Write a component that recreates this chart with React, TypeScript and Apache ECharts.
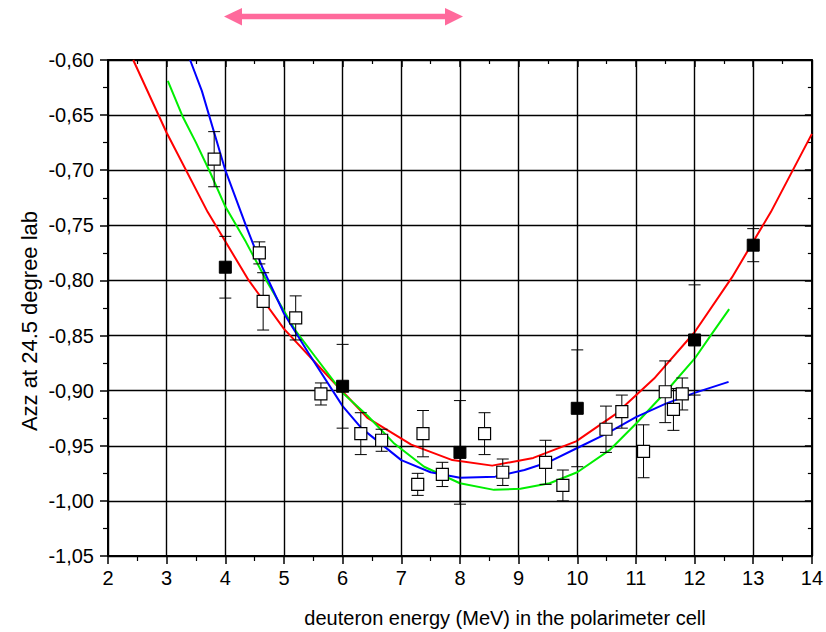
import React, { useEffect, useRef } from "react";
import * as echarts from "echarts";

// ---- data ----
const openX = [3.81, 4.58, 4.645, 5.2, 5.63, 6.31, 6.665, 7.28, 7.37, 7.7, 8.42, 8.73, 9.46, 9.755, 10.49, 10.76, 11.13, 11.5, 11.64, 11.79];
const openY = [-0.69, -0.775, -0.819, -0.834, -0.903, -0.939, -0.945, -0.985, -0.939, -0.976, -0.939, -0.974, -0.965, -0.986, -0.935, -0.919, -0.955, -0.901, -0.917, -0.903];
const openErr = [0.025, 0.01, 0.026, 0.02, 0.01, 0.019, 0.01, 0.01, 0.021, 0.011, 0.019, 0.012, 0.02, 0.014, 0.021, 0.015, 0.024, 0.028, 0.019, 0.0145];

const filledX = [4, 6, 8, 10, 12, 13];
const filledY = [-0.788, -0.896, -0.956, -0.916, -0.854, -0.768];
const filledErr = [0.028, 0.038, 0.047, 0.053, 0.05, 0.015];

const redX = [2.43, 3.0, 3.7, 4.4, 5.0, 5.7, 6.43, 7.17, 7.87, 8.55, 9.25, 9.98, 10.66, 11.31, 12.0, 12.64, 13.3, 14.0];
const redY = [-0.6, -0.666, -0.738, -0.8, -0.844, -0.884, -0.925, -0.949, -0.963, -0.968, -0.961, -0.946, -0.921, -0.889, -0.847, -0.797, -0.738, -0.667];

const blueX = [3.4, 3.6, 4.0, 4.35, 4.63, 5.0, 5.42, 6.0, 6.32, 7.0, 7.5, 8.0, 8.6, 9.1, 9.5, 10.0, 10.5, 11.0, 11.5, 12.0, 12.58];
const blueY = [-0.6, -0.628, -0.7, -0.75, -0.788, -0.83, -0.866, -0.914, -0.934, -0.963, -0.974, -0.979, -0.978, -0.972, -0.965, -0.952, -0.939, -0.924, -0.912, -0.902, -0.892];

const greenX = [3.02, 3.27, 3.5, 3.75, 4.0, 4.35, 4.7, 5.19, 5.53, 6.0, 6.43, 6.88, 7.39, 8.0, 8.58, 9.03, 9.53, 10.0, 10.55, 11.0, 11.51, 12.0, 12.3, 12.59];
const greenY = [-0.619, -0.651, -0.675, -0.703, -0.733, -0.765, -0.8, -0.845, -0.869, -0.902, -0.923, -0.948, -0.969, -0.984, -0.99, -0.989, -0.984, -0.974, -0.954, -0.93, -0.901, -0.871, -0.848, -0.826];

const xTitle = "deuteron energy (MeV) in the polarimeter cell";
const yTitle = "Azz at 24.5 degree lab";

const FONT = "'Liberation Sans', Arial, Helvetica, sans-serif";

function zip(xs: number[], ys: number[], es?: number[]) {
  return xs.map((x, i) => (es ? [x, ys[i], es[i]] : [x, ys[i]]));
}

function errorBarItem(params: any, api: any) {
  const x = api.value(0);
  const y = api.value(1);
  const e = api.value(2);
  const top = api.coord([x, y + e]);
  const bot = api.coord([x, y - e]);
  const hw = 6;
  const st = { stroke: "#000", lineWidth: 1 };
  return {
    type: "group",
    children: [
      { type: "line", shape: { x1: top[0], y1: top[1], x2: bot[0], y2: bot[1] }, style: st },
      { type: "line", shape: { x1: top[0] - hw, y1: top[1], x2: top[0] + hw, y2: top[1] }, style: st },
      { type: "line", shape: { x1: bot[0] - hw, y1: bot[1], x2: bot[0] + hw, y2: bot[1] }, style: st },
    ],
  };
}

export default function App() {
  const ref = useRef<HTMLDivElement>(null);
  useEffect(() => {
    if (!ref.current) return;
    const chart = echarts.init(ref.current, null, { renderer: "svg" });
    const axisLineStyle = { color: "#000", width: 2 };
    const baseX = { type: "value", min: 2, max: 14, interval: 1 };
    const baseY = { type: "value", min: -1.05, max: -0.6, interval: 0.05 };
    const pink = "#ff6a9c";
    chart.setOption({
      animation: false,
      grid: { left: 108, right: 6, top: 60, bottom: 76, containLabel: false },
      xAxis: [
        {
          ...baseX,
          position: "bottom",
          axisLine: { show: true, onZero: false, lineStyle: axisLineStyle },
          axisTick: { show: true, inside: false, length: 8, lineStyle: { color: "#000", width: 1.5 } },
          minorTick: { show: true, splitNumber: 2, length: 5, lineStyle: { color: "#000", width: 1.2 } },
          splitLine: { show: true, lineStyle: { color: "#000", width: 1.4 } },
          axisLabel: { color: "#000", fontSize: 20, fontFamily: FONT, margin: 12 },
        },
        {
          ...baseX,
          position: "top",
          axisLine: { show: true, onZero: false, lineStyle: axisLineStyle },
          axisTick: { show: true, inside: true, length: 7, lineStyle: { color: "#000", width: 1.5 } },
          minorTick: { show: true, splitNumber: 2, length: 4, lineStyle: { color: "#000", width: 1.2 } },
          splitLine: { show: false },
          axisLabel: { show: false },
        },
      ],
      yAxis: [
        {
          ...baseY,
          position: "left",
          axisLine: { show: true, onZero: false, lineStyle: axisLineStyle },
          axisTick: { show: true, inside: false, length: 8, lineStyle: { color: "#000", width: 1.5 } },
          minorTick: { show: true, splitNumber: 2, length: 5, lineStyle: { color: "#000", width: 1.2 } },
          splitLine: { show: true, lineStyle: { color: "#000", width: 1.4 } },
          axisLabel: {
            color: "#000",
            fontSize: 20,
            fontFamily: FONT,
            margin: 14,
            formatter: (v: number) => v.toFixed(2).replace(".", ","),
          },
        },
        {
          ...baseY,
          position: "right",
          axisLine: { show: true, onZero: false, lineStyle: axisLineStyle },
          axisTick: { show: true, inside: true, length: 7, lineStyle: { color: "#000", width: 1.5 } },
          minorTick: { show: true, splitNumber: 2, length: 4, lineStyle: { color: "#000", width: 1.2 } },
          splitLine: { show: false },
          axisLabel: { show: false },
        },
      ],
      graphic: [
        {
          type: "line",
          shape: { x1: 238, y1: 16.5, x2: 448, y2: 16.5 },
          style: { stroke: pink, lineWidth: 5.5 },
        },
        {
          type: "polygon",
          shape: { points: [[224, 16.5], [242, 8], [242, 25.5]] },
          style: { fill: pink },
        },
        {
          type: "polygon",
          shape: { points: [[463, 16.5], [445, 8], [445, 25.5]] },
          style: { fill: pink },
        },
        {
          type: "text",
          x: 505,
          y: 618,
          style: {
            text: xTitle,
            fill: "#000",
            font: `20px ${FONT}`,
            textAlign: "center",
            textVerticalAlign: "middle",
          },
        },
        {
          type: "text",
          x: 29,
          y: 321,
          rotation: Math.PI / 2,
          style: {
            text: yTitle,
            fill: "#000",
            font: `22px ${FONT}`,
            textAlign: "center",
            textVerticalAlign: "middle",
          },
        },
      ],
      series: [
        {
          type: "line",
          data: zip(redX, redY),
          showSymbol: false,
          lineStyle: { color: "#ff0000", width: 2 },
          z: 3,
        },
        {
          type: "line",
          data: zip(greenX, greenY),
          showSymbol: false,
          lineStyle: { color: "#00ee00", width: 2 },
          z: 3,
        },
        {
          type: "line",
          data: zip(blueX, blueY),
          showSymbol: false,
          lineStyle: { color: "#0000ff", width: 2 },
          z: 3,
        },
        {
          type: "custom",
          data: zip(openX, openY, openErr),
          renderItem: errorBarItem,
          z: 4,
        },
        {
          type: "custom",
          data: zip(filledX, filledY, filledErr),
          renderItem: errorBarItem,
          z: 4,
        },
        {
          type: "scatter",
          data: zip(openX, openY),
          symbol: "rect",
          symbolSize: 12,
          itemStyle: { color: "#fff", borderColor: "#000", borderWidth: 1.2, opacity: 1 },
          z: 5,
        },
        {
          type: "scatter",
          data: zip(filledX, filledY),
          symbol: "rect",
          symbolSize: 12,
          itemStyle: { color: "#000", borderColor: "#000", borderWidth: 1, opacity: 1 },
          z: 5,
        },
      ],
    });
    return () => chart.dispose();
  }, []);
  return (
    <div
      ref={ref}
      style={{ position: "absolute", left: 0, top: 0, width: 826, height: 632, background: "#fff" }}
    />
  );
}
